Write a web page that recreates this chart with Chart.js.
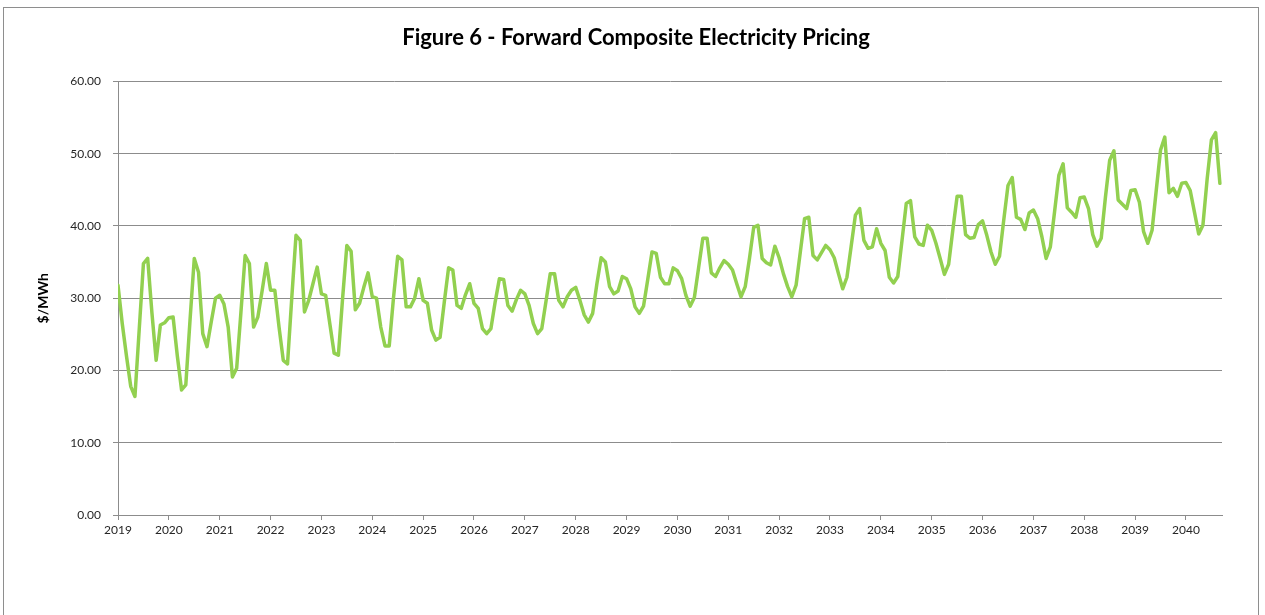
<!DOCTYPE html>
<html>
<head>
<meta charset="utf-8">
<title>Figure 6 - Forward Composite Electricity Pricing</title>
<script src="https://cdn.jsdelivr.net/npm/chart.js@4.4.1/dist/chart.umd.min.js"></script>
<style>
  html, body { margin: 0; padding: 0; background: #fff; }
  #wrap { position: relative; width: 1265px; height: 615px; overflow: hidden; }
  #frame {
    position: absolute; left: 3px; top: 7px; width: 1256px; height: 700px;
    border: 1px solid #8e8e8e; box-sizing: border-box;
  }
  #chart { position: absolute; left: 0; top: 0; }
</style>
</head>
<body>
<div id="wrap">
  <div id="frame"></div>
  <canvas id="chart" width="1265" height="615"></canvas>
</div>
<script>
// monthly series, Jan 2019 .. Sep 2040 ($/MWh)
const START_YEAR = 2019;
const yearLabels = ['2019', '2020', '2021', '2022', '2023', '2024', '2025', '2026', '2027', '2028', '2029',
  '2030', '2031', '2032', '2033', '2034', '2035', '2036', '2037', '2038', '2039', '2040'];
const yTicks = [0, 10, 20, 30, 40, 50, 60];

const prices = [
  31.8, 26.5, 22.0, 17.8, 16.4, 25.6, 34.8, 35.5, 28.0, 21.4, 26.3, 26.6, // 2019
  27.3, 27.4, 22.0, 17.3, 18.0, 27.0, 35.5, 33.6, 25.1, 23.3, 26.7, 30.0, // 2020
  30.4, 29.2, 26.0, 19.1, 20.3, 28.0, 35.9, 34.8, 26.0, 27.4, 31.0, 34.8, // 2021
  31.1, 31.1, 26.0, 21.4, 20.9, 30.0, 38.7, 38.0, 28.1, 29.7, 32.0, 34.3, // 2022
  30.6, 30.4, 26.4, 22.4, 22.1, 30.0, 37.3, 36.5, 28.4, 29.3, 31.5, 33.5, // 2023
  30.2, 30.0, 26.0, 23.4, 23.4, 30.0, 35.8, 35.3, 28.8, 28.8, 30.0, 32.7, // 2024
  29.7, 29.3, 25.6, 24.2, 24.6, 29.5, 34.2, 33.9, 29.0, 28.6, 30.5, 32.0, // 2025
  29.3, 28.6, 25.8, 25.1, 25.8, 29.5, 32.7, 32.6, 29.0, 28.2, 29.8, 31.1, // 2026
  30.6, 29.0, 26.5, 25.1, 25.8, 29.6, 33.4, 33.4, 29.7, 28.8, 30.2, 31.1, // 2027
  31.5, 29.7, 27.7, 26.7, 27.9, 32.0, 35.6, 35.0, 31.6, 30.6, 31.0, 33.0, // 2028
  32.7, 31.3, 28.8, 27.9, 28.9, 32.6, 36.4, 36.2, 32.9, 32.0, 32.0, 34.2, // 2029
  33.8, 32.7, 30.4, 28.9, 30.1, 34.2, 38.3, 38.3, 33.5, 33.0, 34.2, 35.2, // 2030
  34.7, 33.9, 32.0, 30.2, 31.6, 35.5, 39.8, 40.1, 35.5, 34.9, 34.6, 37.2, // 2031
  35.6, 33.4, 31.6, 30.2, 31.8, 36.4, 41.0, 41.2, 35.9, 35.3, 36.3, 37.3, // 2032
  36.7, 35.6, 33.4, 31.3, 32.9, 37.2, 41.5, 42.4, 38.0, 36.9, 37.1, 39.6, // 2033
  37.6, 36.6, 32.9, 32.1, 33.0, 38.0, 43.1, 43.5, 38.5, 37.5, 37.3, 40.1, // 2034
  39.4, 37.6, 35.5, 33.3, 34.7, 39.5, 44.1, 44.1, 38.8, 38.3, 38.4, 40.2, // 2035
  40.7, 38.7, 36.4, 34.7, 35.8, 40.8, 45.6, 46.7, 41.2, 40.9, 39.5, 41.8, // 2036
  42.2, 41.0, 38.5, 35.5, 37.1, 42.0, 47.0, 48.6, 42.5, 41.9, 41.2, 43.9, // 2037
  44.0, 42.4, 38.8, 37.2, 38.3, 44.0, 49.1, 50.4, 43.6, 43.0, 42.4, 44.9, // 2038
  45.0, 43.3, 39.2, 37.6, 39.4, 45.0, 50.5, 52.3, 44.6, 45.2, 44.1, 45.9, // 2039
  46.0, 44.9, 41.9, 38.9, 40.1, 46.5, 51.9, 52.9, 45.9                    // 2040
];

const GRID = '#8c8c8c';
const FONT = "Lato, 'Open Sans', sans-serif";

const ctx = document.getElementById('chart').getContext('2d');

new Chart(ctx, {
  type: 'line',
  data: {
    datasets: [{
      label: 'Forward Composite',
      data: prices.map((v, i) => ({ x: i, y: v })),
      borderColor: '#92d050',
      borderWidth: 3.5,
      borderJoinStyle: 'round',
      borderCapStyle: 'round',
      tension: 0,
      pointRadius: 0,
      fill: false
    }]
  },
  options: {
    responsive: false,
    animation: false,
    layout: { padding: { left: 7, right: 0, top: 0, bottom: 60 } },
    plugins: {
      legend: { display: false },
      tooltip: { enabled: false },
      title: {
        display: true,
        text: 'Figure 6 - Forward Composite Electricity Pricing',
        color: '#000',
        font: { family: FONT, size: 22, weight: 'bold' },
        padding: { top: 25, bottom: 30 }
      }
    },
    scales: {
      x: {
        type: 'linear',
        min: 0,
        max: 260.5,
        afterFit: s => { s.height = 40; },
        afterBuildTicks: s => { s.ticks = yearLabels.map((_, k) => ({ value: k * 12 })); },
        grid: { drawOnChartArea: false, drawTicks: true, tickLength: 5, color: GRID },
        border: { color: GRID, width: 1 },
        ticks: {
          autoSkip: false,
          maxRotation: 0,
          padding: 3,
          color: '#262626',
          font: { family: FONT, size: 12 },
          callback: v => yearLabels[Math.round(v / 12)]
        }
      },
      y: {
        min: 0,
        max: 60,
        afterFit: s => { s.width = 111; },
        afterBuildTicks: s => { s.ticks = yTicks.map(v => ({ value: v })); },
        grid: { color: GRID, lineWidth: 1, tickLength: 5 },
        border: { color: GRID, width: 1 },
        ticks: {
          padding: 12,
          color: '#262626',
          font: { family: FONT, size: 12 },
          callback: v => v.toFixed(2)
        },
        title: {
          display: true,
          text: '$/MWh',
          color: '#000',
          font: { family: FONT, size: 14, weight: 'bold' },
          padding: { top: 28, bottom: 0 }
        }
      },
      // empty right-hand band so the plot stops where the reference does
      yRight: {
        axis: 'y',
        type: 'linear',
        position: 'right',
        min: 0,
        max: 60,
        afterFit: s => { s.width = 43; },
        grid: { display: false, drawTicks: false },
        border: { display: false },
        ticks: { display: false }
      }
    }
  }
});
</script>
</body>
</html>
